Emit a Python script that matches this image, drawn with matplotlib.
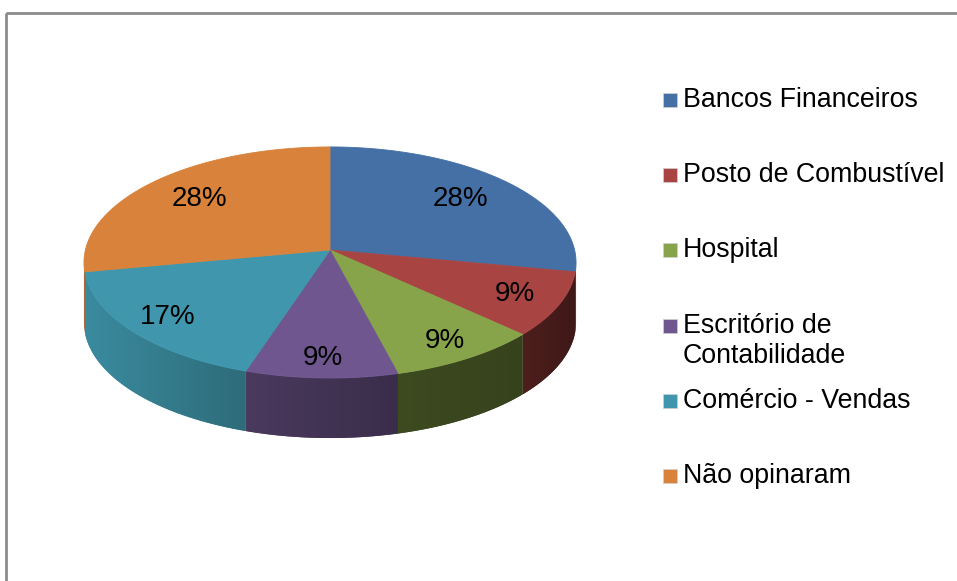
import numpy as np
import matplotlib.pyplot as plt
from matplotlib.patches import Polygon, Rectangle
from matplotlib.colors import to_rgb

plt.rcParams['font.family'] = ['Liberation Sans', 'DejaVu Sans']

# dados
categorias = ['Bancos Financeiros', 'Posto de Combustível', 'Hospital',
              'Escritório de\nContabilidade', 'Comércio - Vendas', 'Não opinaram']
valores = [28, 9, 9, 9, 17, 28]
rotulos = ['28%', '9%', '9%', '9%', '17%', '28%']

# cores (topo e lateral: esquerda -> direita)
cores = ['#4470a5', '#a84543', '#87a44b', '#6f568f', '#4097ad', '#d8823b']
cores_lado = [('#2e4c70', '#2a4468'), ('#4d1f1d', '#3f1818'), ('#3d4b20', '#36421c'),
              ('#4a3a5e', '#3a2d4a'), ('#3a8b9f', '#2e6c7a'), ('#a86028', '#a86028')]

# geometria da pizza 3D (pixels)
cx, cy = 330, 250
A, B, k = 244.6, 114.2, 0.108
D = 60


def proj(t):
    u, v = np.cos(t), np.sin(t)
    w = 1 + k * v
    return cx + A * u / w, cy - B * v / w


fig = plt.figure(figsize=(9.57, 5.81), dpi=100)
ax = fig.add_axes([0, 0, 1, 1])
ax.set_xlim(0, 957)
ax.set_ylim(581, 0)
ax.axis('off')

tot = sum(valores)
bordas = 90 - 360 * np.concatenate([[0], np.cumsum(valores)]) / tot
vis_a = np.degrees(-np.pi + np.arcsin(k))
vis_b = np.degrees(-np.arcsin(k))

# laterais com degradê horizontal
for i in range(len(valores)):
    t1, t0 = bordas[i], bordas[i + 1]
    a, b = max(t0, vis_a), min(t1, vis_b)
    if a >= b:
        continue
    ts = np.radians(np.linspace(a, b, 120))
    xs, ys = proj(ts)
    pts = list(zip(xs, ys)) + list(zip(xs[::-1], ys[::-1] + D))
    lado = Polygon(pts, closed=True, fc=cores_lado[i][0], ec='none')
    ax.add_patch(lado)
    c0, c1 = np.array(to_rgb(cores_lado[i][0])), np.array(to_rgb(cores_lado[i][1]))
    f = np.linspace(0, 1, 64)[:, None]
    grad = (c0 * (1 - f) + c1 * f)[None, :, :]
    im = ax.imshow(grad, extent=(xs.min(), xs.max(), ys.max() + D, ys.min()),
                   aspect='auto', interpolation='bilinear', zorder=1.5)
    im.set_clip_path(lado)

# topo
for i in range(len(valores)):
    ts = np.radians(np.linspace(bordas[i], bordas[i + 1], 200))
    xs, ys = proj(ts)
    pts = [(cx, cy)] + list(zip(xs, ys))
    ax.add_patch(Polygon(pts, closed=True, fc=cores[i], ec=cores[i], lw=0.6, zorder=2))

ax.set_xlim(0, 957)
ax.set_ylim(581, 0)

# rótulos
for i in range(len(valores)):
    tm = np.radians((bordas[i] + bordas[i + 1]) / 2)
    v = np.sin(tm)
    r = 0.78 - 0.08 * v
    u2, v2 = r * np.cos(tm), r * v
    w = 1 + k * v2
    ax.text(cx + A * u2 / w, cy - B * v2 / w, rotulos[i], fontsize=20,
            ha='center', va='center', color='black', zorder=3)

# legenda
ly = [100, 175, 250, 326, 401, 476]
for i, nome in enumerate(categorias):
    ax.add_patch(Rectangle((663, ly[i] - 7), 14, 14, fc=cores[i], ec='#d0d0d0', lw=0.5))
    for j, linha in enumerate(nome.split('\n')):
        ax.text(683, ly[i] + 30 * j, linha, fontsize=19.3, ha='left', va='center', color='black')

# moldura
ax.add_patch(Rectangle((6, 13), 1200, 1000, fill=False, ec='#8c8c8c', lw=2, clip_on=False))

fig.savefig('out.png', dpi=100)
